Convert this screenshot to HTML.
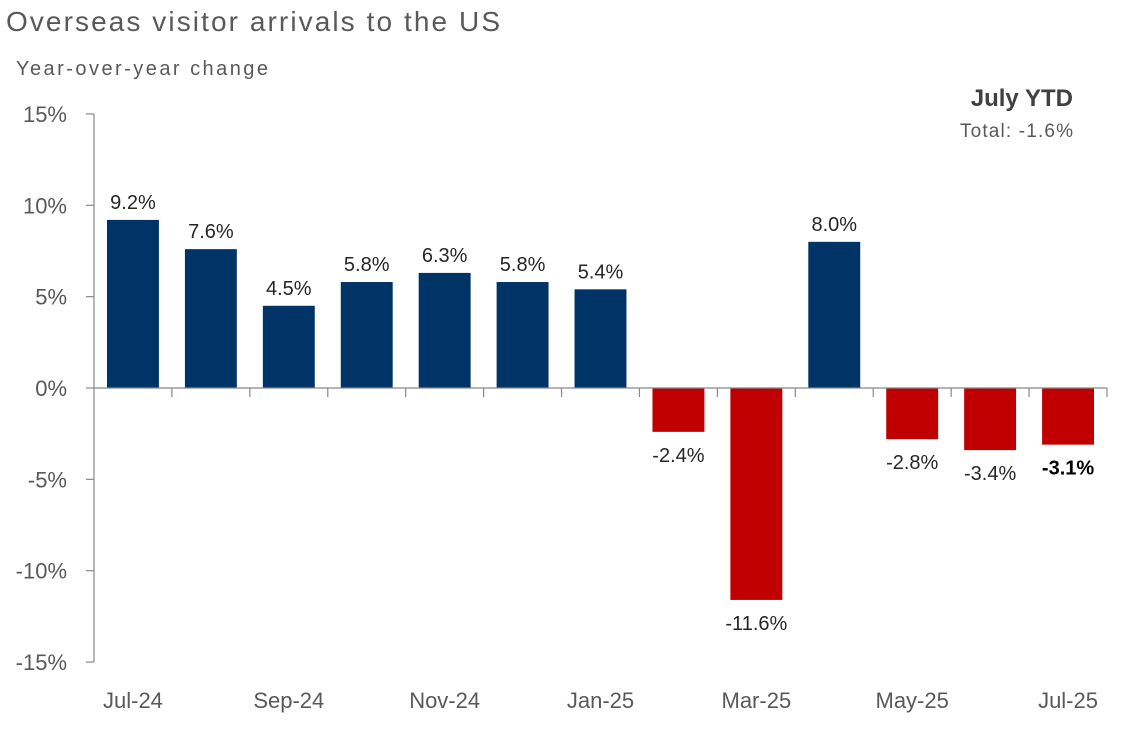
<!DOCTYPE html>
<html><head><meta charset="utf-8"><style>
body{margin:0;background:#fff;width:1134px;height:724px;overflow:hidden;font-family:"Liberation Sans",sans-serif}
svg text{font-family:"Liberation Sans",sans-serif}
</style></head><body>
<svg id="chart" width="1134" height="724" xmlns="http://www.w3.org/2000/svg">
<text x="6" y="31" font-size="28" fill="#595959" textLength="494" lengthAdjust="spacing">Overseas visitor arrivals to the US</text>
<text x="16" y="75" font-size="20" fill="#595959" textLength="252" lengthAdjust="spacing">Year-over-year change</text>
<text x="1073" y="106" font-size="24" font-weight="bold" fill="#404040" text-anchor="end">July YTD</text>
<text x="1073" y="137" font-size="19" fill="#595959" text-anchor="end" textLength="113" lengthAdjust="spacing">Total: -1.6%</text>
<g id="plot"></g>
</svg>
<script>
const categories=["Jul-24","Aug-24","Sep-24","Oct-24","Nov-24","Dec-24","Jan-25","Feb-25","Mar-25","Apr-25","May-25","Jun-25","Jul-25"];
const values=[9.2,7.6,4.5,5.8,6.3,5.8,5.4,-2.4,-11.6,8.0,-2.8,-3.4,-3.1];
const yTicks=[15,10,5,0,-5,-10,-15];
const NS="http://www.w3.org/2000/svg";
const g=document.getElementById('plot');
const x0=94,x1=1107,yZero=388,pxPer=18.27;
const slot=(x1-x0)/categories.length;
const y=v=>yZero-v*pxPer;
function el(t,a){const e=document.createElementNS(NS,t);for(const k in a)e.setAttribute(k,a[k]);g.appendChild(e);return e;}
yTicks.forEach(t=>{
  const l=el('line',{x1:x0-8,x2:x0,y1:y(t),y2:y(t),stroke:'#888','stroke-width':1.2});
  
  
  const tx=el('text',{x:67,y:y(t)+8,'font-size':22,fill:'#595959','text-anchor':'end'});
  tx.textContent=t+'%';
  
  
});
const ya=el('line',{x1:x0,x2:x0,y1:y(15),y2:y(-15),stroke:'#888','stroke-width':1.2});


values.forEach((v,i)=>{
  const bx=x0+i*slot+13,bw=slot-26;
  const r=el('rect',{x:bx,y:Math.min(y(v),yZero),width:bw,height:Math.abs(v)*pxPer,fill:v>=0?'#003366':'#c00000'});
  
  
  const cx=bx+bw/2;
  const last=i===values.length-1;
  const t=el('text',{x:cx,y:v>=0?y(v)-11:y(v)+30,'font-size':20,fill:last?'#000':'#262626','text-anchor':'middle','font-weight':last?'bold':'normal'});
  t.textContent=v.toFixed(1)+'%';
  
  
  const tk=el('line',{x1:x0+(i+1)*slot,x2:x0+(i+1)*slot,y1:yZero,y2:yZero+9,stroke:'#888','stroke-width':1.2});
  
  
  if(i%2===0){
    const xl=el('text',{x:x0+(i+0.5)*slot,y:708,'font-size':22,fill:'#595959','text-anchor':'middle'});
    xl.textContent=categories[i];
    
    
  }
});
const xa=el('line',{x1:x0,x2:x1,y1:yZero,y2:yZero,stroke:'#888','stroke-width':1.2});


</script>
</body></html>
